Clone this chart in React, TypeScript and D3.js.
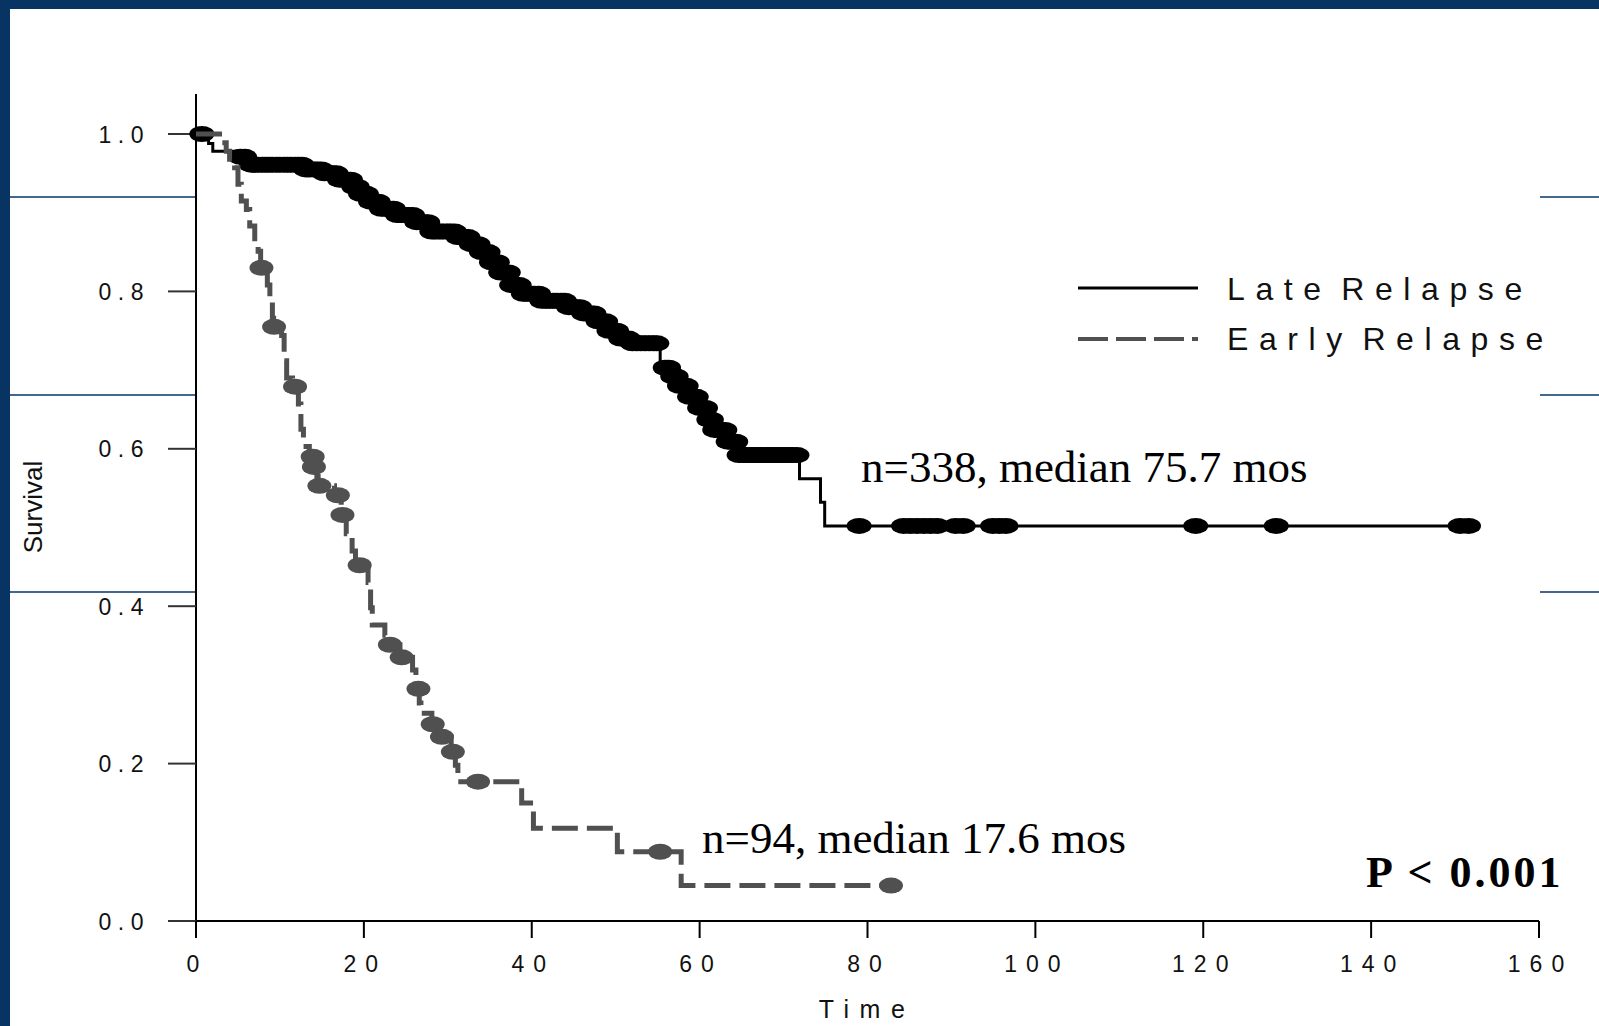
import React from "react";
import * as d3 from "d3";

// ---- Data ----
// Late relapse: Kaplan–Meier step times (months) and survival after each step
const lateTimes = [0, 1.5, 2.0, 4.5, 6.3, 13.0, 15.0, 17.0, 18.5, 19.5, 20.5, 22.0, 24.0, 26.0, 28.0, 31.0, 32.5, 34.0, 35.0, 36.0, 37.5, 39.0, 41.0, 44.0, 46.0, 47.5, 49.0, 50.5, 52.0, 55.3, 56.5, 57.5, 58.5, 60.0, 60.8, 61.8, 63.2, 64.5, 71.9, 74.4, 74.9];
const lateSurv = [1.0, 0.988, 0.978, 0.971, 0.961, 0.955, 0.95, 0.942, 0.933, 0.924, 0.914, 0.905, 0.897, 0.888, 0.876, 0.869, 0.86, 0.85, 0.837, 0.824, 0.808, 0.797, 0.788, 0.78, 0.772, 0.762, 0.75, 0.74, 0.734, 0.703, 0.692, 0.68, 0.666, 0.652, 0.637, 0.624, 0.609, 0.592, 0.562, 0.532, 0.502];
const lateEnd = 152.3;
const lateCensored = [
  0.7, 5.3, 5.8, 6.6, 7.0, 7.4, 7.9, 8.3, 8.7, 9.1, 9.6, 10.0, 10.5, 10.9, 11.3, 11.8, 12.2, 12.6, 13.1, 13.5, 14.0,
  14.4, 14.9, 15.3, 15.8, 16.2, 16.7, 17.1, 17.6, 18.0, 18.4, 18.8, 19.2, 19.6, 20.0, 20.3, 20.8, 21.2, 21.7, 22.1,
  22.6, 23.0, 23.5, 24.0, 24.4, 24.9, 25.3, 25.8, 26.3, 26.7, 27.2, 27.6, 28.1, 28.5, 29.0, 29.4, 29.9, 30.3, 30.8,
  31.2, 31.6, 32.0, 32.4, 32.8, 33.2, 33.6, 34.0, 34.4, 34.8, 35.2, 35.6, 35.9, 36.3, 36.7, 37.2, 37.6, 38.1, 38.5,
  39.0, 39.4, 39.9, 40.3, 40.8, 41.2, 41.7, 42.1, 42.6, 43.0, 43.5, 43.9, 44.4, 44.8, 45.3, 45.7, 46.2, 46.6, 47.0,
  47.4, 47.9, 48.3, 48.8, 49.2, 49.7, 50.1, 50.6, 51.0, 51.5, 52.0, 52.5, 53.0, 53.5, 54.0, 54.5, 54.9, 55.9, 56.3,
  56.8, 57.2, 57.6, 58.0, 58.4, 58.8, 59.2, 59.6, 60.0, 60.4, 60.7, 61.1, 61.4, 61.8, 62.2, 62.6, 63.0, 63.4, 63.8,
  64.3, 64.7, 65.2, 65.6, 66.1, 66.5, 67.0, 67.4, 67.9, 68.3, 68.8, 69.2, 69.7, 70.1, 70.6, 71.0, 71.6,
  79.0, 84.3, 85.1, 85.9, 86.7, 87.5, 88.3, 90.5, 91.4, 94.9, 95.7, 96.5, 119.1, 128.7, 150.6, 151.6,
];

// Early relapse
const earlyTimes = [0, 3.1, 3.6, 4.0, 4.6, 5.0, 5.4, 6.0, 6.4, 7.0, 7.4, 7.7, 8.5, 8.8, 9.1, 9.25, 10.2, 10.5, 10.8, 11.5, 12.2, 12.5, 12.8, 13.5, 13.95, 14.4, 14.55, 16.5, 17.3, 17.9, 18.6, 19.0, 20.5, 20.8, 21.0, 22.5, 22.9, 24.3, 25.8, 26.2, 26.6, 26.8, 28.1, 29.1, 30.4, 30.9, 31.2, 38.8, 40.2, 50.2, 57.8];
const earlySurv = [1.0, 0.989, 0.978, 0.968, 0.957, 0.936, 0.915, 0.904, 0.883, 0.862, 0.851, 0.83, 0.808, 0.787, 0.766, 0.755, 0.744, 0.712, 0.69, 0.679, 0.657, 0.625, 0.603, 0.59, 0.577, 0.565, 0.553, 0.541, 0.516, 0.492, 0.47, 0.452, 0.43, 0.398, 0.376, 0.363, 0.351, 0.335, 0.319, 0.295, 0.277, 0.264, 0.25, 0.234, 0.215, 0.198, 0.177, 0.15, 0.118, 0.088, 0.045];
const earlyEnd = 82.8;
const earlyCensored = [7.8, 9.3, 11.8, 13.9, 14.05, 14.7, 16.9, 17.45, 19.5, 23.1, 24.5, 26.5, 28.2, 29.3, 30.6, 33.6, 55.3, 82.8];

const xTicks = [0, 20, 40, 60, 80, 100, 120, 140, 160];
const yTicks = [0, 0.2, 0.4, 0.6, 0.8, 1.0];
const legendLabels = ["Late Relapse", "Early Relapse"];
const annotations = ["n=338, median 75.7 mos", "n=94, median 17.6 mos"];
const pText = "P < 0.001";

// ---- Layout ----
const W = 1599;
const H = 1026;
const x = d3.scaleLinear().domain([0, 160]).range([196, 1539]);
const y = d3.scaleLinear().domain([0, 1]).range([921, 134]);
const NAVY = "#073463";
const GRAY = "#505050";
const sans = "'Liberation Sans', Arial, sans-serif";
const serif = "'Liberation Serif', 'Times New Roman', serif";

function survAt(times: number[], surv: number[], t: number) {
  let v = surv[0];
  for (let i = 0; i < times.length; i++) if (times[i] <= t) v = surv[i];
  return v;
}

function stepPath(times: number[], surv: number[], end: number) {
  const pts: [number, number][] = times.map((t, i) => [t, surv[i]]);
  pts.push([end, surv[surv.length - 1]]);
  return d3
    .line<[number, number]>()
    .x((d) => x(d[0]))
    .y((d) => y(d[1]))
    .curve(d3.curveStepAfter)(pts) as string;
}

export default function App() {
  const latePath = stepPath(lateTimes, lateSurv, lateEnd);
  const earlyPath = stepPath(earlyTimes, earlySurv, earlyEnd);
  return (
    <svg
      width={W}
      height={H}
      style={{ position: "absolute", left: 0, top: 0, background: "#fff" }}
    >
      {/* slide frame */}
      <rect x={0} y={0} width={W} height={9} fill={NAVY} />
      <rect x={0} y={0} width={10} height={H} fill={NAVY} />
      {[197, 395, 592].map((yy) => (
        <g key={yy}>
          <line x1={10} x2={196} y1={yy} y2={yy} stroke={NAVY} strokeWidth={1.5} />
          <line x1={1540} x2={W} y1={yy} y2={yy} stroke={NAVY} strokeWidth={1.5} />
        </g>
      ))}

      {/* axes */}
      <line x1={196} x2={196} y1={94} y2={921} stroke="#000" strokeWidth={2} />
      <line x1={168} x2={1539} y1={921} y2={921} stroke="#000" strokeWidth={2} />
      {yTicks.map((t) => (
        <g key={t}>
          <line x1={168} x2={196} y1={y(t)} y2={y(t)} stroke="#333" strokeWidth={2} />
          <text
            x={150}
            y={y(t) + 8.5}
            textAnchor="end"
            fontFamily={sans}
            fontSize={23}
            letterSpacing={6.5}
            fill="#111"
          >
            {t.toFixed(1)}
          </text>
        </g>
      ))}
      {xTicks.map((t) => (
        <g key={t}>
          <line x1={x(t)} x2={x(t)} y1={921} y2={938} stroke="#000" strokeWidth={2} />
          <text
            x={x(t) + 1.5}
            y={972}
            textAnchor="middle"
            fontFamily={sans}
            fontSize={23}
            letterSpacing={9}
            fill="#111"
          >
            {t}
          </text>
        </g>
      ))}
      <text
        x={867}
        y={1018}
        textAnchor="middle"
        fontFamily={sans}
        fontSize={25}
        letterSpacing={10.5}
        fill="#111"
      >
        Time
      </text>
      <text
        transform="translate(42,507) rotate(-90)"
        textAnchor="middle"
        fontFamily={sans}
        fontSize={26}
        fill="#111"
      >
        Survival
      </text>

      {/* late relapse */}
      <path d={latePath} fill="none" stroke="#000" strokeWidth={3} />
      {lateCensored.map((t, i) => (
        <ellipse
          key={"lc" + i}
          cx={x(t)}
          cy={y(survAt(lateTimes, lateSurv, t))}
          rx={12.5}
          ry={8}
          fill="#000"
        />
      ))}

      {/* early relapse */}
      <path
        d={earlyPath}
        fill="none"
        stroke={GRAY}
        strokeWidth={5}
        strokeDasharray="26 9"
      />
      {earlyCensored.map((t, i) => (
        <ellipse
          key={"ec" + i}
          cx={x(t)}
          cy={y(survAt(earlyTimes, earlySurv, t))}
          rx={12}
          ry={8}
          fill={GRAY}
        />
      ))}

      {/* legend */}
      <line x1={1078} x2={1198} y1={288} y2={288} stroke="#000" strokeWidth={3} />
      <line
        x1={1078}
        x2={1198}
        y1={339}
        y2={339}
        stroke={GRAY}
        strokeWidth={4}
        strokeDasharray="30 8"
      />
      {legendLabels.map((l, i) => (
        <text
          key={l}
          x={1227}
          y={300 + i * 50}
          fontFamily={sans}
          fontSize={32}
          letterSpacing={10.6}
          wordSpacing={-10}
          fill="#111"
        >
          {l}
        </text>
      ))}

      {/* annotations */}
      <text x={861} y={482} fontFamily={serif} fontSize={45} fill="#000">
        {annotations[0]}
      </text>
      <text x={702} y={853} fontFamily={serif} fontSize={45} fill="#000">
        {annotations[1]}
      </text>
      <text
        x={1366}
        y={887}
        fontFamily={serif}
        fontSize={44}
        fontWeight="bold"
        letterSpacing={3}
        fill="#000"
      >
        {pText}
      </text>
    </svg>
  );
}
